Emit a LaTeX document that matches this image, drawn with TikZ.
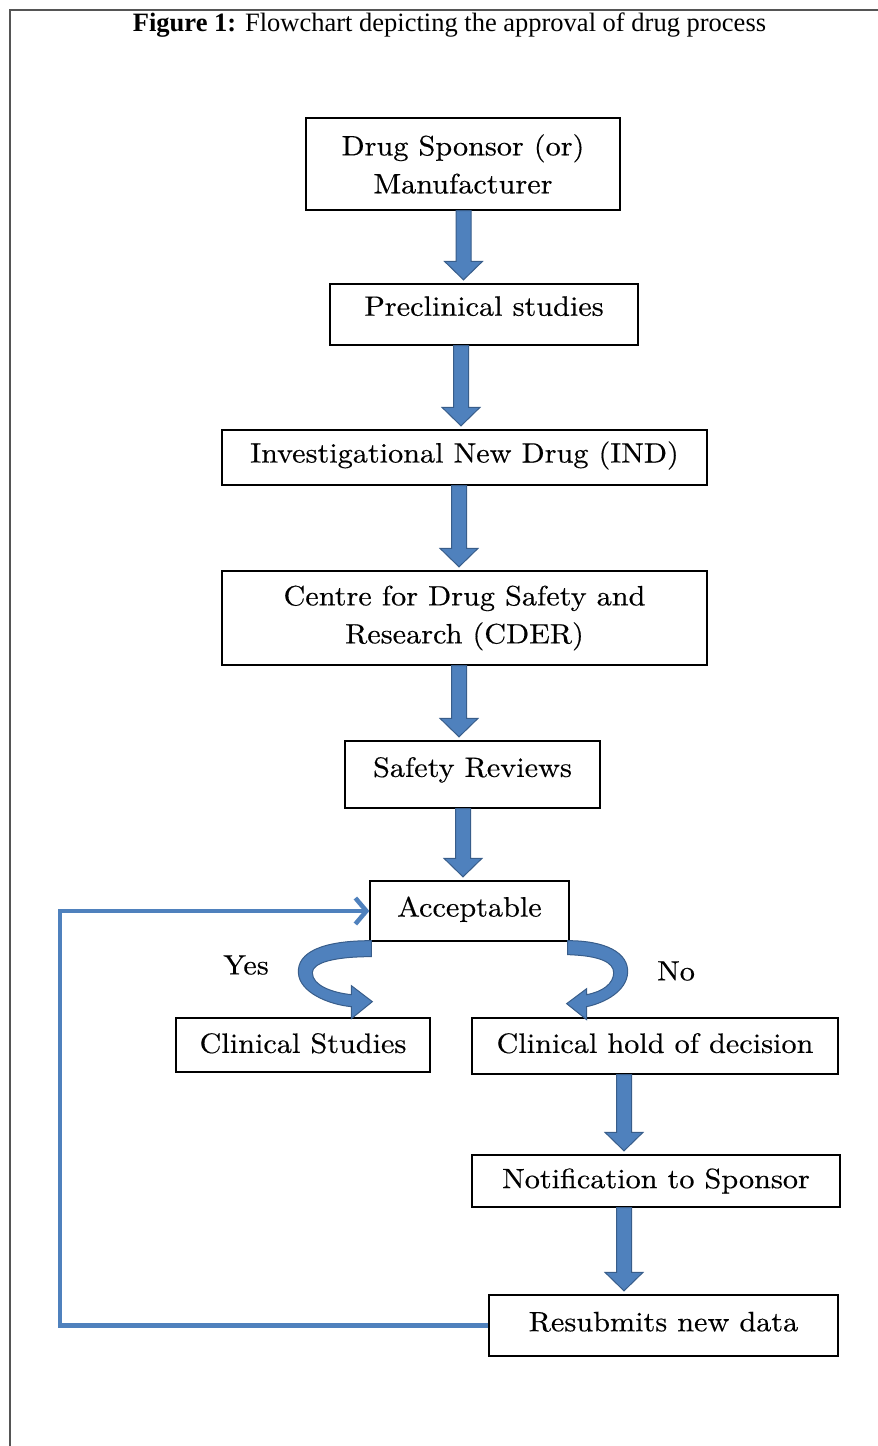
\documentclass[tikz,border=0pt]{standalone}
\usepackage{fontspec}
\usetikzlibrary{arrows.meta,calc}
\newfontfamily\titlefont{Liberation Serif}
\newfontfamily\boxfont{lmroman10-regular.otf}[FakeStretch=1.08,FakeBold=0.4]
\definecolor{arrowfill}{HTML}{4F81BD}
\definecolor{arrowedge}{HTML}{385D8A}
\definecolor{framegray}{HTML}{555555}

\tikzset{
  box/.style={draw=black, line width=1.3pt, inner sep=0pt, align=center,
              font=\boxfont\fontsize{28}{38}\selectfont},
  lift/.style={text depth=#1},
  lbl/.style={inner sep=0pt, font=\boxfont\fontsize{28}{34}\selectfont},
  blockarrow/.style={fill=arrowfill, draw=arrowedge, line width=1pt, line join=miter},
  loopline/.style={draw=arrowfill, line width=4.5pt,
                   -{Straight Barb[length=11pt,width=26pt,line width=4.5pt]}},
}

% straight block arrow: #1 source node, #2 target node, #3 x position
\newcommand\blockdown[3]{%
  \path let \p1=(#1.south), \p2=(#2.north) in
    [blockarrow] (#3pt-7.5pt,\y1) -- (#3pt+7.5pt,\y1) -- (#3pt+7.5pt,\y2+22pt)
    -- (#3pt+19pt,\y2+22pt) -- (#3pt,\y2+3.5pt) -- (#3pt-19pt,\y2+22pt)
    -- (#3pt-7.5pt,\y2+22pt) -- cycle;}

\begin{document}
\begin{tikzpicture}[x=1pt,y=-1pt]
  \useasboundingbox (0,0) rectangle (878,1446);
  \fill[white] (0,0) rectangle (878,1446);

  % page frame
  \draw[framegray, line width=1.5pt] (10,1446) -- (10,10) -- (878,10);

  % caption
  \node[inner sep=0pt, font=\titlefont\fontsize{26.5}{30}\selectfont] (title) at (449.5,25)
    {\textbf{Figure 1:} Flowchart depicting the approval of drug process};

  % process boxes
  \node[box, minimum width=314, minimum height=92] (sponsor) at (463,164)
    {Drug Sponsor (or)\\Manufacturer};
  \node[box, lift=17pt, minimum width=308, minimum height=61] (preclin) at (484,314.5)
    {Preclinical studies};
  \node[box, lift=11pt, minimum width=485, minimum height=55] (ind) at (464.5,457.5)
    {Investigational New Drug (IND)};
  \node[box, minimum width=485, minimum height=94] (cder) at (464.5,618)
    {Centre for Drug Safety and\\Research (CDER)};
  \node[box, lift=15pt, minimum width=255, minimum height=67] (safety) at (472.5,774.5)
    {Safety Reviews};
  \node[box, lift=9pt, minimum width=199, minimum height=60] (acc) at (469.5,911)
    {Acceptable};
  \node[box, lift=4pt, minimum width=254, minimum height=54] (clin) at (303,1045)
    {Clinical Studies};
  \node[box, lift=6pt, minimum width=366, minimum height=56] (hold) at (655,1046)
    {Clinical hold of decision};
  \node[box, minimum width=368, minimum height=52] (notif) at (656,1181)
    {Notification to Sponsor};
  \node[box, lift=8pt, minimum width=349, minimum height=61] (resub) at (663.5,1325.5)
    {Resubmits new data};

  % branch labels
  \node[lbl] (yes) at (246,965) {Yes};
  \node[lbl] (no) at (676,971) {No};

  % straight block arrows
  \blockdown{sponsor}{preclin}{463.5}
  \blockdown{preclin}{ind}{461}
  \blockdown{ind}{cder}{459}
  \blockdown{cder}{safety}{459}
  \blockdown{safety}{acc}{463}
  \blockdown{hold}{notif}{624}
  \blockdown{notif}{resub}{624}

  % curved block arrow: yes branch
  \begin{scope}[shift={(acc.south west)}]
    \path[blockarrow] (2,-1) .. controls (-48,-1) and (-72,11) .. (-71,31)
      .. controls (-70,51) and (-40,63) .. (-18,65) -- (-18,77) -- (3,60)
      -- (-18,44) -- (-18,53) .. controls (-37,51) and (-57,44) .. (-57,31)
      .. controls (-57,21) and (-35,15) .. (2,15) -- cycle;
  \end{scope}
  % curved block arrow: no branch
  \begin{scope}[shift={(acc.south east)}]
    \path[blockarrow] (-2,-1) .. controls (36,-1) and (59,11) .. (58,31)
      .. controls (57,49) and (36,61) .. (17,65) -- (17,78) -- (-3,62)
      -- (17,47) -- (17,53) .. controls (33,50) and (44,42) .. (44,31)
      .. controls (44,21) and (31,14) .. (-2,13) -- cycle;
  \end{scope}

  % resubmission loop back to the review
  \coordinate (loopx) at (60,0);
  \draw[loopline] (resub.west) -- (resub.west -| loopx) |- (acc.west);
\end{tikzpicture}
\end{document}
